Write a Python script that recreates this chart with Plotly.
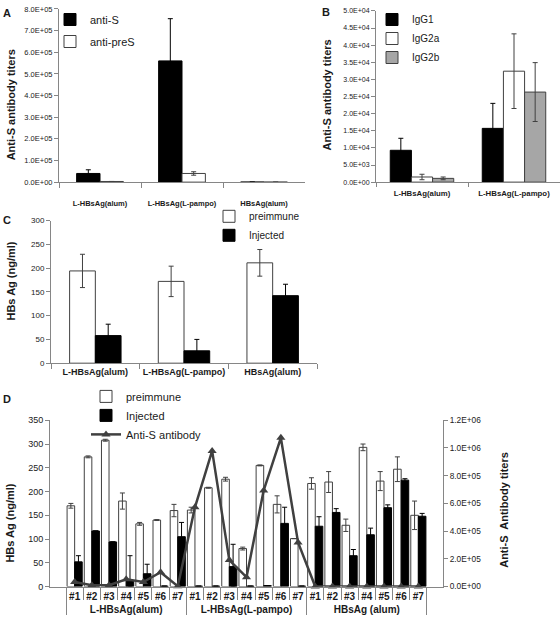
import plotly.graph_objects as go

FONT = "Liberation Sans, Arial, sans-serif"
AXC = "#868686"
ERRC = "#404040"
TXT = "#1a1a1a"

# ---------------- Panel A ----------------
a_groups = ["L-HBsAg(alum)", "L-HBsAg(L-pampo)", "HBsAg(alum)"]
a_anti_s = [40000, 560000, 0]
a_anti_s_err = [17000, 195000, 0]
a_anti_pres = [3000, 40000, 0]
a_anti_pres_err = [0, 8000, 0]
a_tickvals = [0, 100000, 200000, 300000, 400000, 500000, 600000, 700000, 800000]
a_ticktext = ["0.0E+00", "1.0E+05", "2.0E+05", "3.0E+05", "4.0E+05",
              "5.0E+05", "6.0E+05", "7.0E+05", "8.0E+05"]

# ---------------- Panel B ----------------
b_groups = ["L-HBsAg(alum)", "L-HBsAg(L-pampo)"]
b_igg1 = [9300, 15700]
b_igg1_err = [3500, 7300]
b_igg2a = [1500, 32400]
b_igg2a_err = [800, 10900]
b_igg2b = [1100, 26300]
b_igg2b_err = [400, 8600]
b_tickvals = [0, 5000, 10000, 15000, 20000, 25000, 30000, 35000, 40000, 45000, 50000]
b_ticktext = ["0.0E+00", "5.0E+03", "1.0E+04", "1.5E+04", "2.0E+04", "2.5E+04",
              "3.0E+04", "3.5E+04", "4.0E+04", "4.5E+04", "5.0E+04"]

# ---------------- Panel C ----------------
c_groups = ["L-HBsAg(alum)", "L-HBsAg(L-pampo)", "HBsAg(alum)"]
c_pre = [194, 172, 211]
c_pre_err = [35, 32, 28]
c_inj = [58, 26, 142]
c_inj_err = [24, 24, 24]

# ---------------- Panel D ----------------
d_groups = ["L-HBsAg(alum)", "L-HBsAg(L-pampo)", "HBsAg (alum)"]
d_mice = ["#1", "#2", "#3", "#4", "#5", "#6", "#7"]
d_pre = [170, 273, 308, 180, 132, 140, 160,
         161, 208, 226, 80, 255, 173, 101,
         217, 220, 129, 293, 222, 247, 150]
d_pre_err = [5, 2, 2, 17, 3, 1, 13,
             6, 1, 4, 3, 1, 18, 0,
             12, 22, 13, 7, 20, 26, 30]
d_inj = [52, 117, 94, 13, 27, 1, 105,
         1, 1, 42, 1, 2, 133, 1,
         127, 156, 65, 109, 166, 224, 148]
d_inj_err = [13, 0, 0, 52, 20, 0, 30,
             0, 0, 47, 0, 0, 34, 0,
             20, 8, 13, 14, 6, 3, 6]
d_anti_s = [33000, 10000, 10000, 52000, 33000, 104000, 3000,
            572000, 979000, 191000, 68000, 694000, 1073000, 318000,
            0, 0, 0, 0, 0, 0, 0]
d_right_tickvals = [0, 200000, 400000, 600000, 800000, 1000000, 1200000]
d_right_ticktext = ["0.0E+00", "2.0E+05", "4.0E+05", "6.0E+05", "8.0E+05", "1.0E+06", "1.2E+06"]

d_x = [[g for g in d_groups for _ in d_mice], [m for _ in d_groups for m in d_mice]]


def err(vals, errs, color=ERRC):
    return dict(type="data", array=errs, arrayminus=[min(e, v) for e, v in zip(errs, vals)],
                color=color, thickness=1, width=2.5, visible=True)


fig = go.Figure()

# A
fig.add_trace(go.Bar(x=a_groups, y=a_anti_s, name="anti-S", xaxis="x", yaxis="y",
                     marker=dict(color="black", line=dict(color="black", width=1)),
                     width=0.285, offset=-0.285, error_y=err(a_anti_s, a_anti_s_err, "black"),
                     legend="legend", legendgroup="aS"))
fig.add_trace(go.Bar(x=a_groups, y=a_anti_pres, name="anti-preS", xaxis="x", yaxis="y",
                     marker=dict(color="white", line=dict(color=ERRC, width=1)),
                     width=0.285, offset=0, error_y=err(a_anti_pres, a_anti_pres_err),
                     legend="legend", legendgroup="aP"))
# B
for vals, errs, nm, col, off in [(b_igg1, b_igg1_err, "IgG1", "black", -0.345),
                                 (b_igg2a, b_igg2a_err, "IgG2a", "white", -0.115),
                                 (b_igg2b, b_igg2b_err, "IgG2b", "#a6a6a6", 0.115)]:
    fig.add_trace(go.Bar(x=b_groups, y=vals, name=nm, xaxis="x2", yaxis="y2",
                         marker=dict(color=col, line=dict(color="black" if col == "black" else ERRC, width=1)),
                         width=0.23, offset=off,
                         error_y=err(vals, errs, "black" if col == "black" else ERRC),
                         legend="legend2", legendgroup="b" + nm))
# C
fig.add_trace(go.Bar(x=c_groups, y=c_pre, name="preimmune", xaxis="x3", yaxis="y3",
                     marker=dict(color="white", line=dict(color=ERRC, width=1)),
                     width=0.29, offset=-0.29, error_y=err(c_pre, c_pre_err),
                     legend="legend3", legendgroup="cP"))
fig.add_trace(go.Bar(x=c_groups, y=c_inj, name="Injected", xaxis="x3", yaxis="y3",
                     marker=dict(color="black", line=dict(color="black", width=1)),
                     width=0.29, offset=0, error_y=err(c_inj, c_inj_err, "black"),
                     legend="legend3", legendgroup="cI"))
# D
fig.add_trace(go.Bar(x=d_x, y=d_pre, name="preimmune", xaxis="x4", yaxis="y4",
                     marker=dict(color="white", line=dict(color=ERRC, width=1)),
                     width=0.44, offset=-0.44, error_y=err(d_pre, d_pre_err),
                     legend="legend4", legendgroup="dP"))
fig.add_trace(go.Bar(x=d_x, y=d_inj, name="Injected", xaxis="x4", yaxis="y4",
                     marker=dict(color="black", line=dict(color="black", width=1)),
                     width=0.44, offset=0, error_y=err(d_inj, d_inj_err, "black"),
                     legend="legend4", legendgroup="dI"))
fig.add_trace(go.Scatter(x=d_x, y=d_anti_s, name="Anti-S antibody", xaxis="x4", yaxis="y5",
                         mode="lines+markers", line=dict(color="#404040", width=2.5),
                         marker=dict(symbol="triangle-up", size=8, color="#404040"),
                         cliponaxis=False, legend="legend4", legendgroup="dA"))

W, H = 560, 627


def px_x(a, b):
    return [a / W, b / W]


def px_y(top, bottom):
    return [1 - bottom / H, 1 - top / H]


def yax(dom_y, anchor, rng, size, **kw):
    d = dict(domain=dom_y, anchor=anchor, range=rng, showline=True, linecolor=AXC, linewidth=1,
             ticks="outside", ticklen=4, tickcolor=AXC, showgrid=False, zeroline=False,
             tickfont=dict(family=FONT, size=size, color=TXT), fixedrange=True)
    d.update(kw)
    return d


def xax(dom_x, anchor, size, **kw):
    d = dict(domain=dom_x, anchor=anchor, showline=True, linecolor=AXC, linewidth=1,
             ticks="outside", ticklen=5, tickcolor=AXC, tickson="boundaries", showgrid=False,
             tickangle=0,
             tickfont=dict(family=FONT, size=size, color=TXT, weight="bold"), fixedrange=True)
    d.update(kw)
    return d


leg_common = dict(xanchor="left", yanchor="top", bgcolor="rgba(0,0,0,0)", borderwidth=0,
                  traceorder="grouped", itemclick=False, itemdoubleclick=False)

annots = []


def txt(x, y, s, size=11, angle=0, bold=True):
    annots.append(dict(x=x / W, y=1 - y / H, xref="paper", yref="paper", text=s, showarrow=False,
                       textangle=angle, xanchor="center", yanchor="middle",
                       font=dict(family=FONT, size=size, color=TXT, weight="bold" if bold else "normal")))


txt(7, 8, "A", 11)
txt(326, 7, "B", 11)
txt(7, 218, "C", 11)
txt(7, 400, "D", 11)
txt(11, 102, "Anti-S antibody titers", 11, -90)
txt(327, 92, "Anti-S antibody titers", 11, -90)
txt(11, 281, "HBs Ag (ng/ml)", 11, -90)
txt(10, 527, "HBs Ag (ng/ml)", 11, -90)
txt(504, 513, "Anti-S  Antibody titers", 11, -90)

fig.update_layout(
    width=W, height=H, autosize=False, margin=dict(l=0, r=0, t=0, b=0),
    paper_bgcolor="white", plot_bgcolor="white", barmode="overlay",
    font=dict(family=FONT, color=TXT),
    xaxis=xax(px_x(59, 305), "y", 7.5, ticklabelstandoff=14),
    yaxis=yax(px_y(4, 180), "x", [0, 800000], 7.5, tickvals=a_tickvals, ticktext=a_ticktext),
    xaxis2=xax(px_x(376, 560), "y2", 7.8, ticklen=4, ticklabelstandoff=4),
    yaxis2=yax(px_y(6, 180), "x2", [0, 50000], 7, tickvals=b_tickvals, ticktext=b_ticktext),
    xaxis3=xax(px_x(51, 317), "y3", 9),
    yaxis3=yax(px_y(219, 364), "x3", [0, 300], 8, dtick=50),
    xaxis4=dict(domain=px_x(50, 443), anchor="y4", type="multicategory", showline=True,
                linecolor=AXC, linewidth=1, ticks="outside", ticklen=12, tickcolor=AXC,
                tickangle=0,
                showdividers=True, dividercolor=AXC, dividerwidth=1, showgrid=False,
                tickfont=dict(family=FONT, size=10, color=TXT, weight="bold"), fixedrange=True),
    yaxis4=yax(px_y(422, 591), "x4", [0, 350], 9, dtick=50),
    yaxis5=yax(px_y(422, 591), "x4", [0, 1200000], 8.3, overlaying="y4", side="right",
               tickvals=d_right_tickvals, ticktext=d_right_ticktext),
    legend=dict(leg_common, x=50 / W, y=1.0, font=dict(family=FONT, size=11, color=TXT),
                tracegroupgap=3),
    legend2=dict(leg_common, x=372 / W, y=1.0, font=dict(family=FONT, size=10, color=TXT),
                 tracegroupgap=0),
    legend3=dict(leg_common, x=209 / W, y=1 - 200 / H, font=dict(family=FONT, size=10, color=TXT),
                 tracegroupgap=0),
    legend4=dict(leg_common, x=86 / W, y=1 - 383 / H, font=dict(family=FONT, size=11, color=TXT),
                 tracegroupgap=0),
    annotations=annots,
    showlegend=True,
)

fig.write_html("out.html", config={"displayModeBar": False},
               post_script="document.body.style.margin='0';document.body.style.overflow='hidden';")
